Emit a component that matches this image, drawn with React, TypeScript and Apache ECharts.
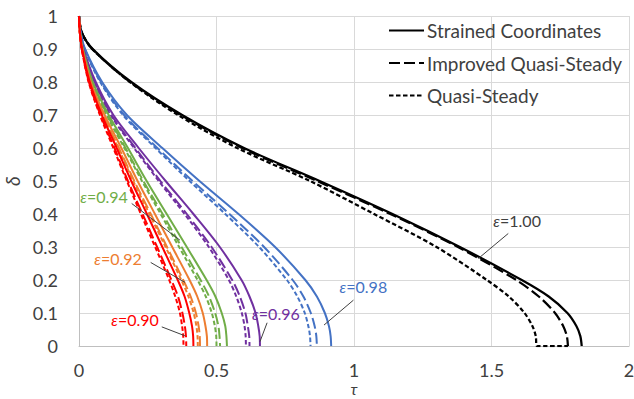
import React, { useEffect, useRef } from 'react';
import * as echarts from 'echarts';

const FONT = 'Lato, "Open Sans", sans-serif';
const TEXT_COLOR = '#404040';

// δ levels shared by every curve (y values)
const DELTA = [1, 0.95, 0.9, 0.8, 0.7, 0.6, 0.5, 0.4, 0.3, 0.2, 0.15, 0.1, 0.06, 0.03, 0];

// τ values at each δ level; SC = Strained Coordinates, IQS = Improved Quasi-Steady, QS = Quasi-Steady
const TAU_090_SC = [0, 0.003, 0.011, 0.039, 0.083, 0.137, 0.19, 0.247, 0.303, 0.359, 0.384, 0.401, 0.411, 0.415, 0.416];
const TAU_090_IQS = [0, 0.003, 0.01, 0.036, 0.078, 0.129, 0.178, 0.231, 0.284, 0.336, 0.36, 0.376, 0.385, 0.389, 0.39];
const TAU_090_QS = [0, 0.003, 0.01, 0.035, 0.076, 0.125, 0.174, 0.225, 0.277, 0.328, 0.35, 0.367, 0.375, 0.379, 0.38];

const TAU_092_SC = [0, 0.003, 0.012, 0.043, 0.093, 0.154, 0.213, 0.276, 0.339, 0.402, 0.43, 0.45, 0.46, 0.465, 0.466];
const TAU_092_IQS = [0, 0.003, 0.011, 0.041, 0.088, 0.145, 0.201, 0.261, 0.32, 0.379, 0.406, 0.425, 0.435, 0.439, 0.44];
const TAU_092_QS = [0, 0.003, 0.011, 0.04, 0.086, 0.143, 0.197, 0.256, 0.315, 0.372, 0.398, 0.417, 0.427, 0.431, 0.432];

const TAU_094_SC = [0, 0.004, 0.014, 0.05, 0.108, 0.178, 0.246, 0.319, 0.392, 0.464, 0.496, 0.519, 0.532, 0.536, 0.538];
const TAU_094_IQS = [0, 0.004, 0.013, 0.048, 0.103, 0.169, 0.234, 0.304, 0.373, 0.442, 0.473, 0.495, 0.507, 0.511, 0.513];
const TAU_094_QS = [0, 0.004, 0.013, 0.047, 0.1, 0.165, 0.229, 0.297, 0.364, 0.431, 0.461, 0.483, 0.494, 0.499, 0.5];

const TAU_096_SC = [0, 0.005, 0.016, 0.061, 0.125, 0.217, 0.315, 0.416, 0.512, 0.591, 0.62, 0.642, 0.652, 0.657, 0.658];
const TAU_096_IQS = [0, 0.004, 0.015, 0.057, 0.118, 0.205, 0.296, 0.392, 0.482, 0.557, 0.585, 0.605, 0.614, 0.619, 0.62];
const TAU_096_QS = [0, 0.004, 0.015, 0.056, 0.115, 0.2, 0.29, 0.384, 0.472, 0.545, 0.572, 0.592, 0.602, 0.606, 0.607];

const TAU_098_SC = [0, 0.006, 0.022, 0.084, 0.174, 0.303, 0.438, 0.58, 0.713, 0.823, 0.865, 0.894, 0.909, 0.915, 0.917];
const TAU_098_IQS = [0, 0.006, 0.021, 0.08, 0.164, 0.285, 0.413, 0.547, 0.673, 0.777, 0.816, 0.843, 0.857, 0.863, 0.865];
const TAU_098_QS = [0, 0.006, 0.02, 0.077, 0.16, 0.278, 0.402, 0.532, 0.655, 0.756, 0.794, 0.821, 0.834, 0.84, 0.842];

const TAU_100_SC = [0, 0.01, 0.05, 0.19, 0.375, 0.6, 0.875, 1.14, 1.385, 1.61, 1.708, 1.776, 1.809, 1.823, 1.828];
const TAU_100_IQS = [0, 0.01, 0.048, 0.186, 0.37, 0.593, 0.866, 1.132, 1.378, 1.59, 1.672, 1.731, 1.761, 1.774, 1.778];
const TAU_100_QS = [0, 0.01, 0.048, 0.185, 0.36, 0.575, 0.84, 1.073, 1.3, 1.483, 1.563, 1.62, 1.649, 1.661, 1.665];
const TAIL_100_QS = [[1.778, 0]];

const EPSILONS = ['0.90', '0.92', '0.94', '0.96', '0.98', '1.00'];
const COLORS = ['#FF0000', '#ED7D31', '#70AD47', '#7030A0', '#4472C4', '#000000'];
const SC_SETS = [TAU_090_SC, TAU_092_SC, TAU_094_SC, TAU_096_SC, TAU_098_SC, TAU_100_SC];
const IQS_SETS = [TAU_090_IQS, TAU_092_IQS, TAU_094_IQS, TAU_096_IQS, TAU_098_IQS, TAU_100_IQS];
const QS_SETS = [TAU_090_QS, TAU_092_QS, TAU_094_QS, TAU_096_QS, TAU_098_QS, TAU_100_QS];

const LEGEND_NAMES = ['Strained Coordinates', 'Improved Quasi-Steady', 'Quasi-Steady'];

// annotation labels (data coordinates): text centre, leader start, leader end
const ANNOT_TEXT_POS = [[0.2036, 0.0808], [0.1418, 0.265], [0.0909, 0.454], [0.716, 0.099], [1.034, 0.179], [1.593, 0.379]];
const ANNOT_FROM = [[0.301, 0.058], [0.2607, 0.2532], [0.1916, 0.4318], [0.684, 0.0705], [0.998, 0.139], [1.561, 0.341]];
const ANNOT_TO = [[0.385, 0.031], [0.3855, 0.1927], [0.367, 0.3207], [0.658, 0.013], [0.891, 0.0635], [1.452, 0.265]];

const X_MIN = 0, X_MAX = 2, X_STEP = 0.5;
const Y_MIN = 0, Y_MAX = 1, Y_STEP = 0.1;

const zip = (taus: number[]) => taus.map((t, i) => [t, DELTA[i]]);

function buildSeries() {
  const series: any[] = [];
  const dashLong = [11, 4];
  const dashShort = [4.5, 2.5];
  const order = [5, 4, 3, 2, 1, 0];
  order.forEach((g) => {
    const color = COLORS[g];
    const eps = EPSILONS[g];
    const black = g === 5;
    const width = black ? 2.25 : 2;
    const labelColor = black ? TEXT_COLOR : color;
    const base = {
      type: 'line',
      showSymbol: false,
      symbol: 'none',
      smooth: 0.3,
      silent: true,
      z: 2,
    };
    series.push({
      ...base,
      name: black ? LEGEND_NAMES[2] : `ε=${eps} QS`,
      data: black ? [...zip(QS_SETS[g]), ...TAIL_100_QS] : zip(QS_SETS[g]),
      lineStyle: { color, width, type: dashShort },
      itemStyle: { color },
    });
    series.push({
      ...base,
      name: black ? LEGEND_NAMES[1] : `ε=${eps} IQS`,
      data: zip(IQS_SETS[g]),
      lineStyle: { color, width, type: dashLong },
      itemStyle: { color },
    });
    series.push({
      ...base,
      name: black ? LEGEND_NAMES[0] : `ε=${eps} SC`,
      data: zip(SC_SETS[g]),
      lineStyle: { color, width, type: 'solid' },
      itemStyle: { color },
      markLine: {
        silent: true,
        symbol: ['none', 'none'],
        animation: false,
        label: { show: false },
        lineStyle: { color: TEXT_COLOR, width: 1, type: 'solid' },
        emphasis: { disabled: true },
        data: [[{ coord: ANNOT_FROM[g] }, { coord: ANNOT_TO[g] }]],
      },
      markPoint: {
        silent: true,
        animation: false,
        symbol: 'rect',
        symbolSize: 1,
        itemStyle: { color: 'rgba(0,0,0,0)' },
        data: [
          {
            coord: ANNOT_TEXT_POS[g],
            label: {
              show: true,
              position: 'inside',
              formatter: `{i|ε}{n|=${eps}}`,
              rich: {
                i: { fontStyle: 'italic', color: labelColor, fontSize: 16, fontFamily: FONT },
                n: { color: labelColor, fontSize: 16, fontFamily: FONT },
              },
            },
          },
        ],
      },
    });
  });
  return series;
}

export default function App() {
  const ref = useRef<HTMLDivElement>(null);
  useEffect(() => {
    document.body.style.margin = '0';
    const chart = echarts.init(ref.current!, null, { renderer: 'svg' });
    const axisLabel = { color: TEXT_COLOR, fontSize: 18, fontFamily: FONT };
    chart.setOption({
      animation: false,
      backgroundColor: '#ffffff',
      grid: { left: 79, right: 5, top: 16, bottom: 53, containLabel: false, outerBoundsMode: 'none' },
      legend: {
        data: LEGEND_NAMES,
        orient: 'vertical',
        left: 388,
        top: 21,
        padding: 0,
        itemWidth: 35,
        itemHeight: 20,
        itemGap: 13.5,
        selectedMode: false,
        itemStyle: { opacity: 0 },
        textStyle: { color: TEXT_COLOR, fontSize: 19, fontFamily: FONT, padding: [0, 0, 0, -2] },
      },
      xAxis: {
        type: 'value',
        min: X_MIN,
        max: X_MAX,
        interval: X_STEP,
        name: 'τ',
        nameLocation: 'middle',
        nameGap: 33,
        nameMoveOverlap: false,
        nameTextStyle: { color: TEXT_COLOR, fontSize: 16, lineHeight: 18, fontStyle: 'italic', fontFamily: FONT },
        axisLine: { show: true, lineStyle: { color: '#bfbfbf', width: 1 } },
        axisTick: { show: false },
        axisLabel: { ...axisLabel, lineHeight: 18, margin: 15, formatter: (v: number) => String(+v.toFixed(1)) },
        splitLine: { show: true, lineStyle: { color: '#d9d9d9', width: 1 } },
      },
      yAxis: {
        type: 'value',
        min: Y_MIN,
        max: Y_MAX,
        interval: Y_STEP,
        name: 'δ',
        nameLocation: 'middle',
        nameGap: 53,
        nameRotate: 90,
        nameTextStyle: { color: TEXT_COLOR, fontSize: 19, fontStyle: 'italic', fontFamily: FONT },
        axisLine: { show: true, lineStyle: { color: '#bfbfbf', width: 1 } },
        axisTick: { show: false },
        axisLabel: { ...axisLabel, margin: 21, formatter: (v: number) => String(+v.toFixed(1)) },
        splitLine: { show: true, lineStyle: { color: '#d9d9d9', width: 1 } },
      },
      series: buildSeries(),
    });
    return () => chart.dispose();
  }, []);
  return <div ref={ref} style={{ width: 634, height: 399 }} />;
}
